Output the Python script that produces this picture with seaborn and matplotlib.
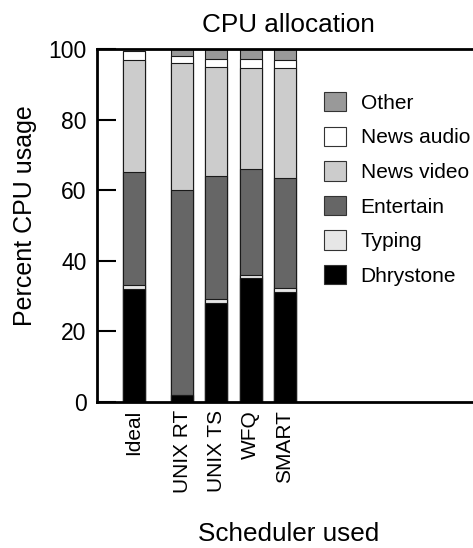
import numpy as np
import pandas as pd
import matplotlib
matplotlib.use("Agg")
import matplotlib.pyplot as plt
from matplotlib.patches import Patch
import seaborn as sns

# CPU share (%) given to each workload under each scheduler
schedulers = ["Ideal", "UNIX RT", "UNIX TS", "WFQ", "SMART"]
series_names = ["Dhrystone", "Typing", "Entertain", "News video", "News audio", "Other"]
dhrystone = [32, 2, 28, 35, 31]
typing = [1, 0, 1, 1, 1.3]
entertain = [32, 58, 35, 30, 31.2]
news_video = [32, 36, 31, 28.5, 31]
news_audio = [2.3, 2, 2.3, 2.6, 2.5]
other = [0, 2, 2.7, 2.9, 3]
y_ticks = [0, 20, 40, 60, 80, 100]

series_colors = ["#000000", "#e6e6e6", "#666666", "#cccccc", "#ffffff", "#999999"]

sns.set_theme(style="white")
plt.rcParams["font.family"] = ["Liberation Sans", "DejaVu Sans"]
plt.rcParams.update({
    "text.color": "black",
    "axes.labelcolor": "black",
    "xtick.color": "black",
    "ytick.color": "black",
    "axes.edgecolor": "black",
})

layers = [dhrystone, typing, entertain, news_video, news_audio, other]
tops = np.cumsum(np.array(layers, dtype=float), axis=0)

# slot positions: a wider gap separates the "Ideal" column from the real schedulers
slot = np.arange(len(schedulers), dtype=float)
slot[1:] += 0.4

fig = plt.figure(figsize=(4.73, 5.48), dpi=100)
ax = fig.add_axes([97 / 473, 1 - 401.7 / 548, 1 - 97 / 473, (401.7 - 49) / 548])

# stacked bars: draw cumulative totals from the top layer down
for i in reversed(range(len(layers))):
    df = pd.DataFrame({"pos": slot, "top": tops[i]})
    sns.barplot(data=df, x="pos", y="top", native_scale=True, width=0.64,
                color=series_colors[i], saturation=1, errorbar=None,
                edgecolor="#1a1a1a", linewidth=0.8, ax=ax)

ax.set_xlim(-1.08, 9.88)
ax.set_ylim(0, 100)
ax.set_yticks(y_ticks)
ax.set_xticks(slot)
ax.set_xticklabels(schedulers, rotation=90)

ax.spines["right"].set_visible(False)
for side in ("left", "top", "bottom"):
    ax.spines[side].set_linewidth(2)
    ax.spines[side].set_color("black")

ax.tick_params(axis="y", left=True, direction="in", length=14, width=1.5,
               pad=7.5, labelsize=16.5)
ax.tick_params(axis="x", bottom=True, length=0, pad=6, labelsize=15)

ax.set_title("CPU allocation", fontsize=18.8, pad=12.5, x=0.51)
ax.set_ylabel("Percent CPU usage", fontsize=18)
ax.yaxis.set_label_coords(-0.16, 0.527)
ax.set_xlabel("Scheduler used", fontsize=18.8)
ax.xaxis.set_label_coords(0.51, -0.34)

handles = [Patch(facecolor=c, edgecolor="#333333", linewidth=0.8, label=n)
           for n, c in reversed(list(zip(series_names, series_colors)))]
ax.legend(handles=handles, loc="upper left",
          bbox_to_anchor=(324 / 473, 1 - 92 / 548), bbox_transform=fig.transFigure,
          frameon=False, fontsize=15, handlelength=1.06, handleheight=1.06,
          handletextpad=0.7, labelspacing=0.66, borderpad=0, borderaxespad=0)

fig.savefig("out.png", dpi=100)
